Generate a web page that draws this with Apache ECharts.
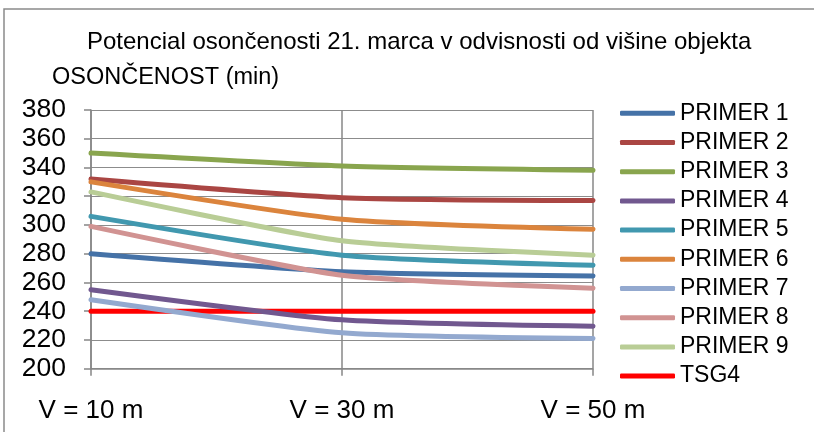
<!DOCTYPE html>
<html>
<head>
<meta charset="utf-8">
<script src="https://cdn.jsdelivr.net/npm/echarts@6/dist/echarts.min.js"></script>
<style>html,body{margin:0;padding:0;background:#fff}#c{width:814px;height:432px}</style>
</head>
<body>
<div id="c"></div>
<script>
const categories = ['V = 10 m', 'V = 30 m', 'V = 50 m'];
const primer1 = [280, 267.5, 264.5];
const primer2 = [332, 319, 317];
const primer3 = [350, 341, 338];
const primer4 = [255, 234, 229.5];
const primer5 = [306, 279, 272];
const primer6 = [330, 304, 297];
const primer7 = [248, 225, 221];
const primer8 = [299, 265, 256];
const primer9 = [323, 289, 279];
const tsg4 = [240, 240, 240];
const seriesNames = ['PRIMER 1','PRIMER 2','PRIMER 3','PRIMER 4','PRIMER 5','PRIMER 6','PRIMER 7','PRIMER 8','PRIMER 9','TSG4'];
const seriesData = [primer1, primer2, primer3, primer4, primer5, primer6, primer7, primer8, primer9, tsg4];
const colors = ['#4572A7','#AA4643','#89A54E','#71588F','#4198AF','#DB843D','#93A9CF','#D19392','#B9CD96','#FF0000'];
const yTicks = { min: 200, max: 380, interval: 20 };

const FONT = 'Liberation Sans, Arial, sans-serif';
const chart = echarts.init(document.getElementById('c'), null, { renderer: 'canvas' });
const series = seriesNames.map((name, i) => ({
  name,
  type: 'line',
  data: seriesData[i],
  smooth: i === 9 ? false : 0.2,
  symbol: 'none',
  z: i === 9 ? 1 : 2,
  lineStyle: { width: 5, color: colors[i], cap: 'round', join: 'round' },
  itemStyle: { color: colors[i] }
}));
chart.setOption({
  animation: false,
  backgroundColor: '#fff',
  color: colors,
  title: [
    { text: 'Potencial osončenosti 21. marca v odvisnosti od višine objekta', left: 87, top: 30, padding: 0,
      textStyle: { fontFamily: FONT, fontSize: 24, fontWeight: 'normal', color: '#000', lineHeight: 24 } },
    { text: 'OSONČENOST (min)', left: 52, top: 65.5, padding: 0,
      textStyle: { fontFamily: FONT, fontSize: 23.5, fontWeight: 'normal', color: '#000', lineHeight: 23.5 } }
  ],
  graphic: [
    { type: 'rect', shape: { x: 4, y: 9, width: 900, height: 600 }, style: { fill: 'none', stroke: '#8a8a8a', lineWidth: 1.5 }, silent: true, z: -10 }
  ],
  legend: {
    orient: 'vertical',
    left: 620,
    top: 101.3,
    padding: 0,
    icon: 'roundRect',
    itemWidth: 55,
    itemHeight: 5,
    itemGap: 5.2,
    data: seriesNames,
    textStyle: { fontFamily: FONT, fontSize: 23, color: '#000', lineHeight: 24 }
  },
  grid: { left: 91, right: 221, top: 110, bottom: 63.3, containLabel: false },
  xAxis: {
    type: 'category',
    data: categories,
    boundaryGap: false,
    axisLine: { lineStyle: { color: '#878787', width: 1.5 } },
    axisTick: { show: true, length: 7, inside: false, lineStyle: { color: '#878787', width: 1.5 } },
    axisLabel: { fontFamily: FONT, fontSize: 26, color: '#000', margin: 29 },
    splitLine: { show: true, lineStyle: { color: '#878787', width: 1.5 } }
  },
  yAxis: {
    type: 'value',
    min: yTicks.min, max: yTicks.max, interval: yTicks.interval,
    axisLine: { show: true, lineStyle: { color: '#878787', width: 1.5 } },
    axisTick: { show: true, length: 7, lineStyle: { color: '#878787', width: 1.5 } },
    axisLabel: { fontFamily: FONT, fontSize: 26.5, color: '#000', margin: 25 },
    splitLine: { show: true, lineStyle: { color: '#8c8c8c', width: 1.2 } }
  },
  series
});
</script>
</body>
</html>
